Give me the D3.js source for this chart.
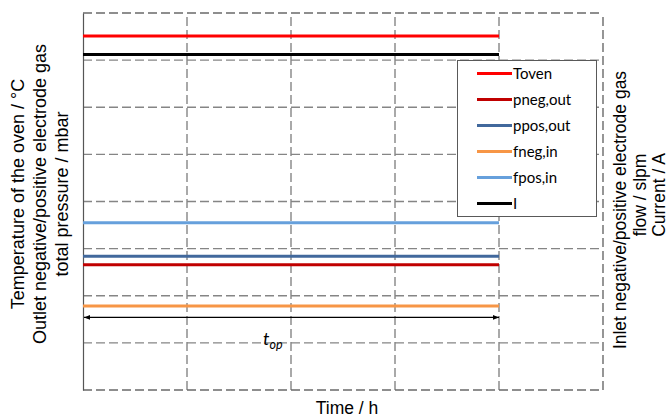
<!DOCTYPE html>
<html>
<head>
<meta charset="utf-8">
<script src="https://cdn.jsdelivr.net/npm/d3@7"></script>
<style>
  html, body { margin: 0; padding: 0; background: #fff; }
  svg { display: block; }
</style>
</head>
<body>
<div id="chart"></div>
<script>
// Operating-period overview: constant set points over the operating time t_op
const seriesNames  = ["Toven", "pneg,out", "ppos,out", "fneg,in", "fpos,in", "I"];
const seriesColors = ["#ff0000", "#c00000", "#41689c", "#f79646", "#66a0dc", "#000000"];
const seriesValues = [7.51, 2.66, 2.84, 1.78, 3.55, 7.12];   // relative axis units
const timeStart = 0;
const timeEnd = 4;            // end of the operating period
const timeDomain = [0, 5];    // time axis grid units
const valueDomain = [0, 8];   // value axis grid units
const opArrowLevel = 1.54;
const xTickValues = [0, 1, 2, 3, 4, 5];
const yTickValues = [0, 1, 2, 3, 4, 5, 6, 7, 8];

const W = 670, H = 419;
const margin = { left: 83, right: 67, top: 13, bottom: 29 };

const svg = d3.select("#chart").append("svg")
  .attr("width", W).attr("height", H);

const x = d3.scaleLinear().domain(timeDomain).range([margin.left, W - margin.right]);
const y = d3.scaleLinear().domain(valueDomain).range([H - margin.bottom, margin.top]);

// dashed grid
const gridColor = "#858585";
const dash = "9,4";
const grid = svg.append("g");
grid.selectAll("line.h").data(yTickValues.filter(v => v > valueDomain[0] && v < valueDomain[1]))
  .join("line").attr("class", "h")
  .attr("x1", x(timeDomain[0])).attr("x2", x(timeDomain[1]))
  .attr("y1", d => y(d)).attr("y2", d => y(d))
  .attr("stroke", gridColor).attr("stroke-width", 1.4).attr("stroke-dasharray", dash);
grid.selectAll("line.v").data(xTickValues.filter(v => v > timeDomain[0] && v < timeDomain[1]))
  .join("line").attr("class", "v")
  .attr("x1", d => x(d)).attr("x2", d => x(d))
  .attr("y1", y(valueDomain[0])).attr("y2", y(valueDomain[1]))
  .attr("stroke", gridColor).attr("stroke-width", 1.4).attr("stroke-dasharray", dash);

// frame: dashed top / right / bottom, solid left axis
const frameColor = "#6a6a6a";
[[timeDomain[0], valueDomain[1], timeDomain[1], valueDomain[1]],
 [timeDomain[1], valueDomain[0], timeDomain[1], valueDomain[1]],
 [timeDomain[0], valueDomain[0], timeDomain[1], valueDomain[0]]].forEach(s => {
  svg.append("line")
    .attr("x1", x(s[0])).attr("y1", y(s[1])).attr("x2", x(s[2])).attr("y2", y(s[3]))
    .attr("stroke", frameColor).attr("stroke-width", 1.4).attr("stroke-dasharray", dash);
});

const yAxis = d3.axisLeft(y).tickValues([]).tickSizeOuter(0);
svg.append("g").attr("transform", `translate(${x(timeDomain[0])},0)`).call(yAxis)
  .select(".domain").attr("stroke", "#555").attr("stroke-width", 1.2);

// series lines
const line = d3.line().x(d => x(d.t)).y(d => y(d.v));
seriesNames.forEach((name, i) => {
  const pts = [{ t: timeStart, v: seriesValues[i] }, { t: timeEnd, v: seriesValues[i] }];
  svg.append("path").datum(pts)
    .attr("d", line).attr("fill", "none")
    .attr("stroke", seriesColors[i]).attr("stroke-width", 3);
});

// operating period arrow
const defs = svg.append("defs");
["start", "end"].forEach(k => {
  defs.append("marker").attr("id", "arr-" + k)
    .attr("viewBox", "0 0 10 10").attr("refX", k === "end" ? 10 : 0).attr("refY", 5)
    .attr("markerWidth", 6).attr("markerHeight", 6).attr("markerUnits", "userSpaceOnUse")
    .attr("orient", "auto")
    .append("path")
    .attr("d", k === "end" ? "M0,1 L10,5 L0,9 Z" : "M10,1 L0,5 L10,9 Z")
    .attr("fill", "#000");
});
svg.append("line")
  .attr("x1", x(timeStart) + 1).attr("x2", x(timeEnd))
  .attr("y1", y(opArrowLevel)).attr("y2", y(opArrowLevel))
  .attr("stroke", "#000").attr("stroke-width", 1.2)
  .attr("marker-start", "url(#arr-start)").attr("marker-end", "url(#arr-end)");

const tlabel = svg.append("text")
  .attr("x", 263).attr("y", 345)
  .attr("font-family", "Lato, 'Open Sans', sans-serif")
  .attr("font-style", "italic").attr("font-size", 18).attr("fill", "#000");
tlabel.append("tspan").text("t");
tlabel.append("tspan").attr("dy", 4).attr("font-size", 12.5).text("op");

// legend
const lg = svg.append("g");
lg.append("rect").attr("x", 457.5).attr("y", 60.5).attr("width", 139).attr("height", 156)
  .attr("fill", "#fff").attr("stroke", "#595959").attr("stroke-width", 1);
seriesNames.forEach((name, i) => {
  const yy = 73.5 + i * 26;
  lg.append("line").attr("x1", 477).attr("x2", 512).attr("y1", yy).attr("y2", yy)
    .attr("stroke", seriesColors[i]).attr("stroke-width", 3);
  lg.append("text").attr("x", 513).attr("y", yy + 5)
    .attr("font-family", "Lato, 'Open Sans', sans-serif").attr("font-size", 15)
    .attr("fill", "#000").text(name);
});

// axis titles
const arial = "'Liberation Sans', Arial, sans-serif";
const leftTitle = ["Temperature of the oven / °C",
                   "Outlet negative/positive electrode gas",
                   "total pressure / mbar"];
const leftX = [18, 40, 62];
leftTitle.forEach((t, i) => {
  svg.append("text")
    .attr("transform", `translate(${leftX[i]},194) rotate(-90)`)
    .attr("text-anchor", "middle").attr("dominant-baseline", "central")
    .attr("font-family", arial).attr("font-size", 18).attr("fill", "#000").text(t);
});
const rightTitle = ["Inlet negative/positive electrode gas", "flow / slpm", "Current / A"];
const rightX = [620, 640, 659];
const rightY = [210, 195, 195];
rightTitle.forEach((t, i) => {
  svg.append("text")
    .attr("transform", `translate(${rightX[i]},${rightY[i]}) rotate(-90)`)
    .attr("text-anchor", "middle").attr("dominant-baseline", "central")
    .attr("font-family", arial).attr("font-size", 17.5).attr("fill", "#000").text(t);
});
svg.append("text").attr("x", 347).attr("y", 414)
  .attr("text-anchor", "middle").attr("font-family", arial).attr("font-size", 17.5)
  .attr("fill", "#000").text("Time / h");
</script>
</body>
</html>
